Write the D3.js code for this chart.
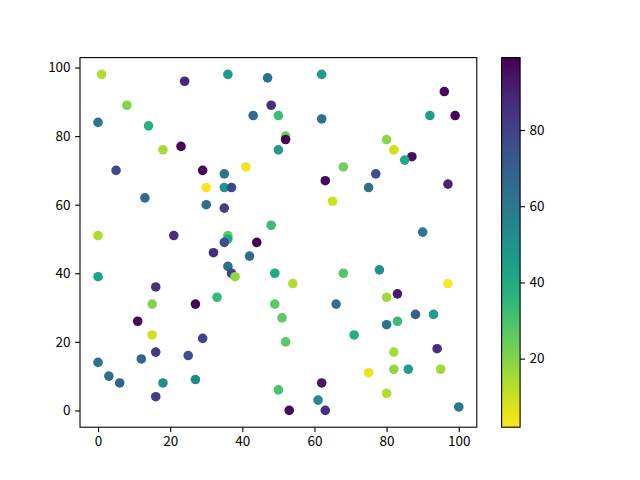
<!DOCTYPE html>
<html>
<head>
<meta charset="utf-8">
<script src="https://cdn.jsdelivr.net/npm/d3@7"></script>
<style>
  body { margin: 0; background: #fff; }
  svg text { font-family: "Noto Sans CJK SC", "DejaVu Sans", sans-serif; font-size: 13.5px; fill: #000; }
</style>
</head>
<body>
<div id="chart"></div>
<script>
// scatter data
const xs = [1, 24, 36, 47, 62, 96, 8, 48, 50, 43, 62, 92, 99, 0, 14, 52, 52, 80, 18, 23,
            50, 82, 87, 85, 5, 29, 35, 68, 77, 41, 63, 97, 30, 35, 37, 75, 65, 13, 30, 35,
            0, 21, 36, 36, 35, 44, 48, 90, 32, 42, 36, 37, 38, 0, 49, 68, 78, 54, 97, 16,
            83, 80, 33, 15, 27, 49, 66, 88, 93, 51, 11, 83, 80, 15, 71, 52, 29, 0, 12, 25,
            16, 82, 94, 3, 6, 18, 27, 75, 82, 86, 95, 16, 50, 62, 61, 53, 63, 80, 100];
const ys = [98, 96, 98, 97, 98, 93, 89, 89, 86, 86, 85, 86, 86, 84, 83, 80, 79, 79, 76, 77,
            76, 76, 74, 73, 70, 70, 69, 71, 69, 71, 67, 66, 65, 65, 65, 65, 61, 62, 60, 59,
            51, 51, 51, 50, 49, 49, 54, 52, 46, 45, 42, 40, 39, 39, 40, 40, 41, 37, 37, 36,
            34, 33, 33, 31, 31, 31, 31, 28, 28, 27, 26, 26, 25, 22, 22, 20, 21, 14, 15, 16,
            17, 17, 18, 10, 8, 8, 9, 11, 12, 12, 12, 4, 6, 8, 3, 0, 0, 5, 1];
const cs = [13, 88, 46, 63, 46, 98, 20, 85, 32, 65, 64, 45, 98, 61, 38, 24, 98, 19, 15, 98,
            46, 9, 95, 41, 78, 97, 60, 23, 75, 4, 97, 89, 3, 48, 78, 63, 10, 66, 63, 81,
            14, 86, 25, 40, 76, 99, 32, 60, 87, 65, 63, 80, 18, 43, 41, 28, 50, 13, 2, 85,
            92, 16, 34, 20, 98, 26, 63, 70, 45, 26, 97, 33, 62, 9, 39, 27, 80, 62, 67, 74,
            83, 15, 86, 65, 68, 52, 54, 5, 18, 45, 16, 81, 30, 94, 53, 96, 84, 13, 61];

const xTicks = [0, 20, 40, 60, 80, 100];
const yTicks = [0, 20, 40, 60, 80, 100];
const cTicks = [20, 40, 60, 80];

const W = 640, H = 480;
const ax = { left: 80, right: 476.8, top: 57.6, bottom: 427.2 };
const cb = { left: 501.6, right: 520.1 };

const svg = d3.select("#chart").append("svg")
    .attr("width", W)
    .attr("height", H);

// matplotlib style 5% margins
const xMin = d3.min(xs), xMax = d3.max(xs);
const yMin = d3.min(ys), yMax = d3.max(ys);
const xPad = (xMax - xMin) * 0.05, yPad = (yMax - yMin) * 0.05;

const x = d3.scaleLinear().domain([xMin - xPad, xMax + xPad]).range([ax.left, ax.right]);
const y = d3.scaleLinear().domain([yMin - yPad, yMax + yPad]).range([ax.bottom, ax.top]);

const cMin = d3.min(cs), cMax = d3.max(cs);
const color = d3.scaleSequential(t => d3.interpolateViridis(1 - t)).domain([cMin, cMax]);

const pts = xs.map((d, i) => ({ x: d, y: ys[i], c: cs[i] }));

svg.append("g")
    .selectAll("circle")
    .data(pts)
    .enter()
    .append("circle")
    .attr("cx", d => x(d.x))
    .attr("cy", d => y(d.y))
    .attr("r", 4.8)
    .attr("fill", d => color(d.c));

// axes
const xAxis = d3.axisBottom(x).tickValues(xTicks).tickSize(4.9).tickSizeOuter(0).tickPadding(4.5);
const yAxis = d3.axisLeft(y).tickValues(yTicks).tickSize(4.9).tickSizeOuter(0).tickPadding(4.5);

const gx = svg.append("g")
    .attr("transform", `translate(0, ${ax.bottom})`)
    .call(xAxis);
const gy = svg.append("g")
    .attr("transform", `translate(${ax.left}, 0)`)
    .call(yAxis);

[gx, gy].forEach(g => {
    g.select(".domain").remove();
    g.selectAll("line").attr("stroke", "#000").attr("stroke-width", 1.1);
    g.attr("font-family", null).attr("font-size", null);
});

svg.append("rect")
    .attr("x", ax.left)
    .attr("y", ax.top)
    .attr("width", ax.right - ax.left)
    .attr("height", ax.bottom - ax.top)
    .attr("fill", "none")
    .attr("stroke", "#000")
    .attr("stroke-width", 1.1);

// colorbar
const cy = d3.scaleLinear().domain([cMin, cMax]).range([ax.bottom, ax.top]);

const grad = svg.append("defs").append("linearGradient")
    .attr("id", "cbar")
    .attr("x1", 0).attr("y1", 1)
    .attr("x2", 0).attr("y2", 0);
d3.range(0, 1.0001, 0.05).forEach(t => {
    grad.append("stop")
        .attr("offset", t)
        .attr("stop-color", color(cMin + t * (cMax - cMin)));
});

svg.append("rect")
    .attr("x", cb.left)
    .attr("y", ax.top)
    .attr("width", cb.right - cb.left)
    .attr("height", ax.bottom - ax.top)
    .attr("fill", "url(#cbar)")
    .attr("stroke", "#000")
    .attr("stroke-width", 1.1);

const cAxis = d3.axisRight(cy).tickValues(cTicks).tickSize(4.9).tickSizeOuter(0).tickPadding(4.5);
const gc = svg.append("g")
    .attr("transform", `translate(${cb.right}, 0)`)
    .call(cAxis);
gc.select(".domain").remove();
gc.selectAll("line").attr("stroke", "#000").attr("stroke-width", 1.1);
gc.attr("font-family", null).attr("font-size", null);
</script>
</body>
</html>
